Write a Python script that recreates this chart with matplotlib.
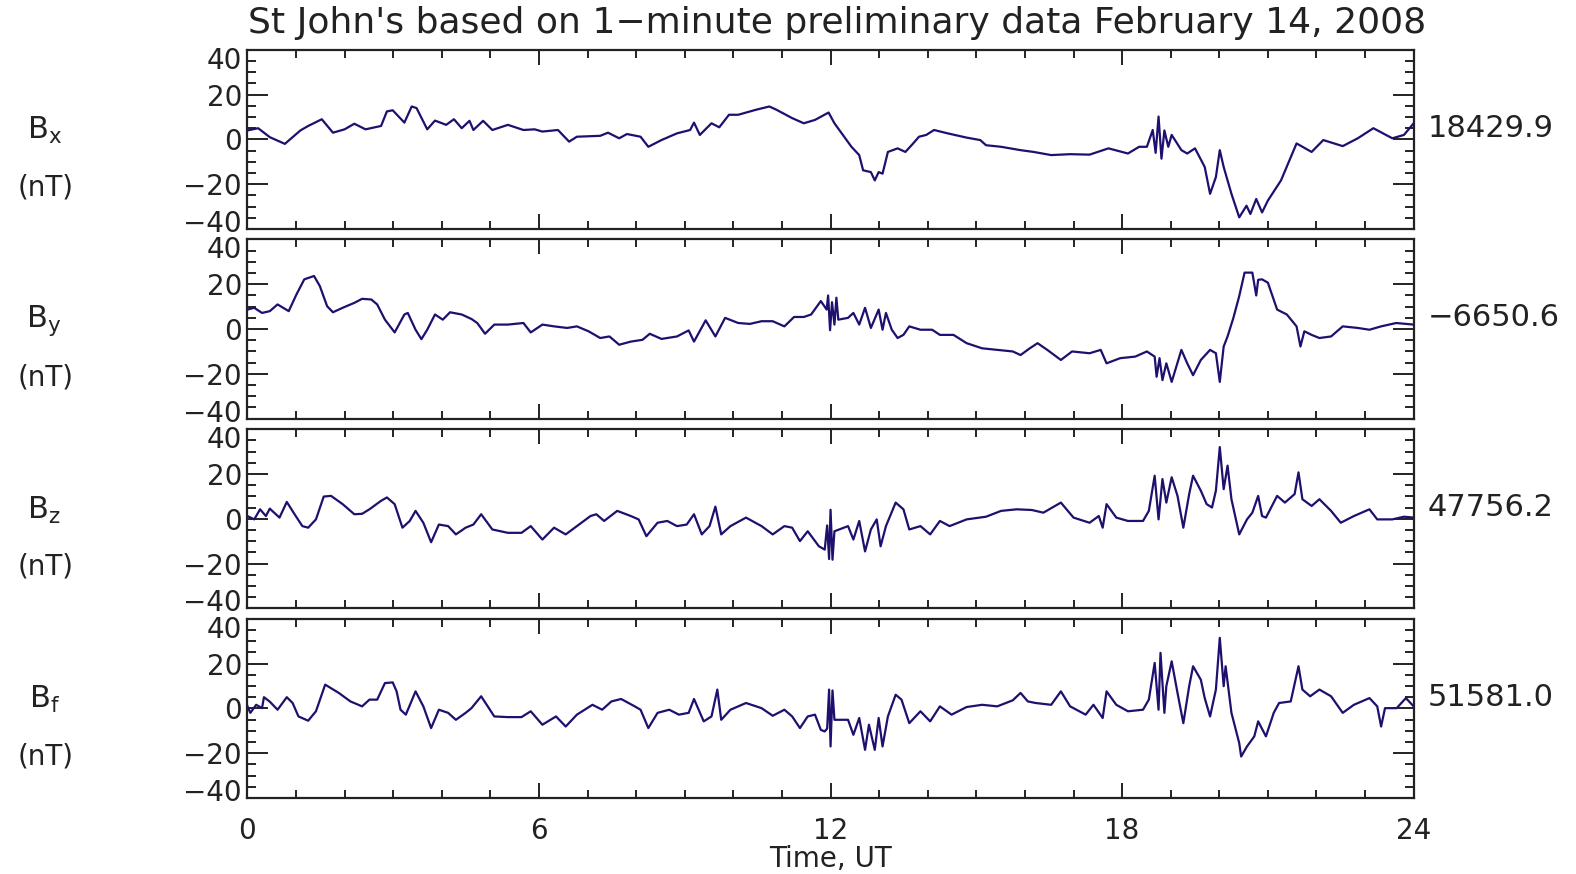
import matplotlib.pyplot as plt
import matplotlib.transforms as mtransforms
from matplotlib.ticker import MultipleLocator

# St John's magnetometer, 14 Feb 2008, deviations from baseline (nT)
# values, time in hours UT
t_bx = [0.0, 0.22, 0.46, 0.77, 1.09, 1.25, 1.53, 1.76, 2.0, 2.2, 2.43, 2.75, 2.87, 2.99,
        3.23, 3.38, 3.48, 3.7, 3.86, 4.09, 4.25, 4.41, 4.57, 4.65, 4.85, 5.04, 5.36, 5.68,
        5.91, 6.07, 6.39, 6.62, 6.78, 7.26, 7.42, 7.65, 7.81, 8.09, 8.25, 8.52, 8.84, 9.11,
        9.19, 9.31, 9.55, 9.71, 9.91, 10.1, 10.46, 10.74, 10.89, 11.21, 11.45, 11.68, 11.96,
        12.08, 12.28, 12.43, 12.59, 12.67, 12.83, 12.91, 12.99, 13.07, 13.18, 13.38, 13.54,
        13.7, 13.82, 13.97, 14.13, 14.41, 14.8, 15.08, 15.2, 15.51, 15.91, 16.18, 16.54,
        16.93, 17.33, 17.72, 18.12, 18.35, 18.51, 18.63, 18.69, 18.75, 18.81, 18.87, 18.95,
        19.02, 19.22, 19.34, 19.5, 19.7, 19.81, 19.93, 20.01, 20.09, 20.25, 20.41, 20.56,
        20.64, 20.76, 20.88, 21.0, 21.27, 21.59, 21.9, 22.14, 22.54, 22.85, 23.17, 23.56,
        23.8, 24.0]
bx = [4, 5, 1, -2, 4, 6, 9, 3, 4.5, 7, 4.5, 6, 12.5, 13,
      7.5, 14.7, 14, 4.5, 8.4, 6.5, 9, 5, 8.3, 4.2, 8.3, 4.2, 6.5, 4.2,
      4.5, 3.5, 4.2, -1, 1.2, 1.6, 3, 0.5, 2.4, 1.2, -3.3, -0.3, 2.7, 4.2,
      7.5, 2, 7.2, 5.4, 11, 11, 13.2, 14.7, 13.2, 9.5, 7.2, 8.7, 12,
      7.2, 1.2, -3.3, -7, -13.8, -14.6, -18.3, -14.6, -15.3, -5.6, -4, -5.6,
      -1.8, 1.2, 2, 4.2, 2.7, 0.8, -0.3, -2.6, -3.3, -4.8, -5.6, -7,
      -6.6, -6.8, -4, -6.3, -3.3, -3.3, 4.2, -6, 10.2, -8.6, 4, -3.3,
      2, -4.8, -6.3, -4, -12.3, -24.3, -16.8, -4.8, -12.3, -24.3, -34.8, -29.6,
      -33.3, -26.6, -32.6, -27.3, -18.3, -1.8, -5.6, -0.3, -3, 0.5, 5, 0.5,
      2, 7.2]

t_by = [0.0, 0.14, 0.3, 0.46, 0.62, 0.85, 1.01, 1.17, 1.37, 1.49, 1.64, 1.76, 1.96, 2.2,
        2.36, 2.55, 2.67, 2.83, 3.03, 3.23, 3.3, 3.46, 3.58, 3.7, 3.86, 4.02, 4.17, 4.41,
        4.61, 4.73, 4.89, 5.08, 5.36, 5.68, 5.83, 6.07, 6.31, 6.58, 6.78, 7.02, 7.26, 7.45,
        7.65, 7.89, 8.13, 8.28, 8.52, 8.84, 9.08, 9.19, 9.43, 9.63, 9.83, 10.1, 10.34, 10.58,
        10.81, 11.05, 11.25, 11.45, 11.6, 11.8, 11.92, 11.95, 11.99, 12.03, 12.08, 12.12,
        12.16, 12.36, 12.47, 12.59, 12.71, 12.83, 12.99, 13.07, 13.14, 13.26, 13.38, 13.5,
        13.62, 13.85, 14.09, 14.25, 14.53, 14.8, 15.12, 15.43, 15.75, 15.91, 16.1, 16.26,
        16.46, 16.74, 16.97, 17.33, 17.56, 17.68, 17.96, 18.27, 18.51, 18.67, 18.71, 18.77,
        18.83, 18.91, 19.02, 19.22, 19.34, 19.46, 19.62, 19.81, 19.93, 20.01, 20.09, 20.17,
        20.29, 20.41, 20.52, 20.68, 20.76, 20.8, 20.88, 21.0, 21.19, 21.39, 21.59, 21.67,
        21.75, 21.9, 22.06, 22.3, 22.54, 22.85, 23.09, 23.33, 23.64, 24.0]
by = [8.7, 9.5, 7.2, 8, 11, 8, 15.5, 22.2, 23.7, 19.2, 10.2, 7.5, 9.5, 11.7,
      13.5, 13.2, 11, 4.2, -1.5, 6.5, 7.2, -0.3, -4.5, -0.3, 6.5, 4.2, 7.5, 6.5,
      4.5, 2.7, -2.1, 2, 2, 2.7, -1.5, 2, 1.2, 0.5, 1.2, -1, -4, -3.3,
      -7, -5.6, -4.8, -2.1, -4.4, -3.3, -0.6, -5.6, 3.9, -3.3, 5, 2.7, 2.3, 3.5,
      3.5, 1.2, 5.4, 5.4, 6.5, 12.5, 8.7, 15, -0.5, 12, 2, 14,
      4.2, 5, 7.2, 2, 9.5, 0.5, 8.7, -0.3, 7.2, -0.3, -4, -2.6,
      1.2, -0.3, -0.3, -2.6, -2.6, -6.3, -8.6, -9.3, -10, -11.6, -8.6, -6.3,
      -9.3, -13.8, -10, -10.8, -9.3, -15.3, -13, -12.3, -10, -12.3, -21.3, -13,
      -22.8, -15.3, -23.6, -9.3, -15.3, -20.6, -13.8, -9.3, -10.8, -23.6, -7.8, -3.3,
      5, 14.7, 25.2, 25.2, 15, 22, 22.2, 20.7, 8.7, 6.5, 1.2, -7.8,
      -1, -2.6, -4, -3.3, 1.2, 0.5, -0.3, 1.2, 2.7, 2]

t_bz = [0.0, 0.14, 0.26, 0.38, 0.46, 0.66, 0.81, 0.97, 1.13, 1.25, 1.41, 1.57, 1.72, 1.96,
        2.2, 2.36, 2.51, 2.75, 2.87, 3.03, 3.19, 3.34, 3.46, 3.62, 3.78, 3.94, 4.13, 4.29,
        4.49, 4.65, 4.81, 5.04, 5.36, 5.64, 5.83, 6.07, 6.31, 6.55, 6.78, 7.06, 7.18, 7.34,
        7.61, 7.89, 8.05, 8.21, 8.44, 8.64, 8.84, 9.04, 9.19, 9.35, 9.51, 9.63, 9.75, 9.94,
        10.26, 10.58, 10.81, 11.05, 11.21, 11.37, 11.53, 11.76, 11.88, 11.93, 11.97, 12.0,
        12.04, 12.08, 12.36, 12.47, 12.59, 12.71, 12.83, 12.95, 13.03, 13.14, 13.34, 13.5,
        13.62, 13.85, 14.05, 14.25, 14.45, 14.8, 15.2, 15.51, 15.83, 16.14, 16.38, 16.74,
        17.0, 17.33, 17.52, 17.6, 17.68, 17.88, 18.12, 18.43, 18.55, 18.67, 18.75, 18.83,
        18.91, 19.02, 19.14, 19.26, 19.38, 19.46, 19.62, 19.74, 19.85, 19.93, 20.01, 20.09,
        20.17, 20.25, 20.41, 20.57, 20.68, 20.8, 20.88, 20.96, 21.19, 21.35, 21.55, 21.63,
        21.71, 21.9, 22.06, 22.3, 22.5, 22.77, 23.09, 23.25, 23.56, 23.8, 24.0]
bz = [1.2, -0.3, 4.2, 1.2, 4.5, 0.5, 7.5, 2, -3.3, -4, -0.3, 9.9, 10.2, 6.5,
      2, 2.2, 4.2, 8, 9.5, 6.5, -4, -1, 3.5, -1.8, -10.5, -2.6, -3.3, -7,
      -4, -2.6, 2, -4.8, -6.3, -6.3, -3.3, -9.3, -4, -7, -3.3, 1.2, 2, -1,
      3.5, 1.2, -0.3, -7.8, -1.8, -1, -3.3, -2.6, 2, -7, -3.3, 5.4, -7, -3.3,
      0.5, -3.3, -7, -3.3, -4, -10, -5.6, -12.3, -13.8, -3, -18, 4,
      -18.3, -5.6, -3.3, -9.3, -1, -14.6, -4.8, -0.3, -12.3, -3.3, 7.2, 4.2,
      -4.8, -3.3, -7, -1, -3.3, -0.3, 0.9, 3.5, 4.2, 3.9, 2.7, 7.2,
      0.5, -1.8, 1.2, -4, 6.5, 0.5, -1, -1, 3.5, 19.2, -0.3, 17.7,
      7.2, 18.5, 10.2, -4, 11, 19.2, 12.5, 6.5, 5, 12.5, 32, 13.2,
      23.7, 8.7, -7, -0.3, 2.7, 10.2, 1.2, 0.5, 10.2, 7.2, 11, 20.7,
      8.7, 5.7, 8.7, 3.5, -1.8, 1.2, 4.2, -0.3, -0.3, 0.9, 0.5]

t_bf = [0.0, 0.06, 0.18, 0.3, 0.34, 0.46, 0.62, 0.81, 0.93, 1.05, 1.25, 1.41, 1.6, 1.88,
        2.12, 2.36, 2.51, 2.67, 2.83, 2.99, 3.07, 3.15, 3.26, 3.46, 3.62, 3.78, 3.94, 4.13,
        4.29, 4.49, 4.61, 4.81, 5.08, 5.36, 5.64, 5.83, 6.07, 6.35, 6.55, 6.78, 7.1, 7.3,
        7.49, 7.69, 7.97, 8.09, 8.25, 8.44, 8.68, 8.88, 9.08, 9.19, 9.39, 9.55, 9.67, 9.75,
        9.94, 10.26, 10.58, 10.81, 11.05, 11.21, 11.37, 11.53, 11.68, 11.8, 11.88, 11.93,
        11.97, 12.0, 12.04, 12.08, 12.36, 12.47, 12.59, 12.71, 12.79, 12.91, 12.99, 13.07,
        13.18, 13.34, 13.46, 13.62, 13.85, 14.05, 14.25, 14.49, 14.8, 15.12, 15.43, 15.75,
        15.91, 16.06, 16.22, 16.54, 16.74, 16.93, 17.25, 17.41, 17.6, 17.68, 17.88, 18.12,
        18.43, 18.55, 18.67, 18.75, 18.79, 18.87, 18.91, 19.02, 19.14, 19.26, 19.38, 19.46,
        19.62, 19.7, 19.81, 19.93, 20.01, 20.09, 20.13, 20.25, 20.41, 20.45, 20.57, 20.72,
        20.8, 20.96, 21.12, 21.23, 21.47, 21.63, 21.71, 21.87, 22.06, 22.3, 22.54, 22.77,
        23.09, 23.25, 23.33, 23.41, 23.65, 23.84, 24.0]
bf = [1, -2, 1.6, 0.1, 5, 3, -0.6, 5, 2.4, -3.6, -5.5, -1.3, 10.6, 6.9,
      3.1, 0.9, 3.9, 3.9, 11.3, 11.6, 7.6, -0.6, -2.8, 7.6, 0.9, -8.8, -0.6, -2,
      -5.1, -2, 0.1, 5.4, -3.6, -3.9, -3.9, -1.3, -7.3, -3.6, -8.1, -2.8, 1.6, -0.6,
      3.1, 4.2, 0.9, -0.6, -8.8, -2, -0.6, -2.8, -2, 4.2, -5.8, -3.6, 8.4, -5.1,
      -0.6, 2.4, 0.1, -3.3, -0.6, -3.6, -8.8, -3.6, -2.8, -9.6, -10.3, -9,
      8.4, -17, 8, -5.1, -5.1, -11.8, -4.3, -18.5, -7.3, -18.5, -4.3, -17,
      -3.6, 6.1, 3.9, -6.6, -1.3, -5.8, 0.9, -2.8, 0.6, 1.6, 0.9, 3.6,
      6.9, 3.1, 2.4, 1.6, 7.6, 0.9, -2.8, 1.6, -4.3, 7.6, 1.6, -1.3,
      -0.6, 3.9, 20.3, -0.6, 24.8, -2, 9.9, 21, 6.9, -6.6, 9.9, 18.8,
      12.8, 4.6, -3.6, 8.4, 31.5, 9.9, 18.8, -2, -15.5, -21.5, -17, -12.5,
      -5.8, -12.5, -2, 2.4, 3.1, 18.8, 8.4, 5.4, 8.4, 5.4, -2, 1.6,
      4.6, 0.9, -8.1, 0.1, 0.1, 4.6, 0.9]

comp_sub = ["x", "y", "z", "f"]
baselines = ["18429.9", "\u22126650.6", "47756.2", "51581.0"]
xtick_labels = ["0", "6", "12", "18", "24"]

series = [(t_bx, bx), (t_by, by), (t_bz, bz), (t_bf, bf)]
line_color = "#1f0f6e"
txt_color = "#222222"
fs = 20

fig = plt.figure(figsize=(15.76, 8.74), dpi=100)
left, width, height = 0.157, 0.740, 0.205
bottoms = [0.738, 0.521, 0.304, 0.087]

# shift the end labels of the y axis into the panel, like the original
shift_down = mtransforms.ScaledTranslation(0, -8 / 100, fig.dpi_scale_trans)
shift_up = mtransforms.ScaledTranslation(0, 8 / 100, fig.dpi_scale_trans)

for i, (tt, vv) in enumerate(series):
    ax = fig.add_axes([left, bottoms[i], width, height])
    ax.plot(tt, vv, color=line_color, lw=1.6)
    ax.set_xlim(0, 24)
    ax.set_ylim(-40, 40)
    ax.xaxis.set_major_locator(MultipleLocator(6))
    ax.xaxis.set_minor_locator(MultipleLocator(1))
    ax.yaxis.set_minor_locator(MultipleLocator(5))
    ax.tick_params(which="both", direction="in", top=True, right=True, width=1.4,
                   labelsize=fs, colors=txt_color)
    ax.tick_params(axis="x", which="major", length=11, pad=14)
    ax.tick_params(axis="x", which="minor", length=6)
    ax.tick_params(axis="y", which="major", length=15, pad=4)
    ax.tick_params(axis="y", which="minor", length=6.5)
    for sp in ax.spines.values():
        sp.set_linewidth(1.6)
        sp.set_color(txt_color)
    ax.set_yticks([-40, -20, 0, 20, 40])
    ax.set_yticklabels(["\u221240", "\u221220", "0", "20", "40"])
    ax.set_ylim(-40, 40)
    ylabs = ax.get_yticklabels()
    ylabs[0].set_transform(ylabs[0].get_transform() + shift_up)
    ylabs[-1].set_transform(ylabs[-1].get_transform() + shift_down)
    if i == 3:
        ax.set_xticks([0, 6, 12, 18, 24])
        ax.set_xticklabels(xtick_labels)
    else:
        ax.tick_params(axis="x", labelbottom=False)

    yc = bottoms[i] + height / 2
    fig.text(0.028, yc + 0.010, "B$_\\mathregular{%s}$" % comp_sub[i], fontsize=fs + 2,
             ha="center", va="center", color=txt_color)
    fig.text(0.029, yc - 0.055, "(nT)", fontsize=fs, ha="center", va="center",
             color=txt_color)
    fig.text(0.906, yc + 0.013, baselines[i], fontsize=fs + 2, ha="left", va="center",
             color=txt_color)

fig.text(0.531, 0.974, "St John's based on 1\u2212minute preliminary data February 14, 2008",
         fontsize=26, ha="center", va="center", color=txt_color)
fig.text(0.527, 0.017, "Time, UT", fontsize=fs, ha="center", va="center", color=txt_color)

fig.savefig("out.png", dpi=100)
